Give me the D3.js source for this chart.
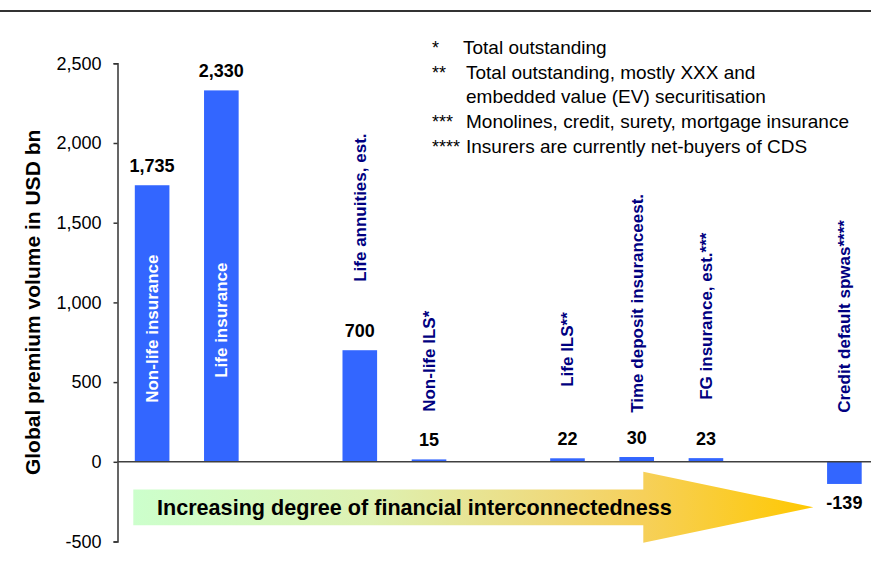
<!DOCTYPE html>
<html>
<head>
<meta charset="utf-8">
<script src="https://cdn.jsdelivr.net/npm/d3@7"></script>
<style>
  body { margin: 0; background: #fff; }
  svg { display: block; font-family: "Liberation Sans", Arial, sans-serif; }
</style>
</head>
<body>
<script>
// categories, gaps are empty slots on the x axis
var categories = ['Non-life insurance', 'Life insurance', '', 'Life annuities, est.', 'Non-life ILS*', '',
	'Life ILS**', 'Time deposit insuranceest.', 'FG insurance, est.***', '', 'Credit default spwas****'];
var values = [1735, 2330, null, 700, 15, null, 22, 30, 23, null, -139];
var yTicks = [-500, 0, 500, 1000, 1500, 2000, 2500];
var footnoteMarks = ['*', '**', '', '***', '****'];
var footnoteTexts = ['Total outstanding', 'Total outstanding, mostly XXX and', 'embedded value (EV) securitisation',
	'Monolines, credit, surety, mortgage insurance', 'Insurers are currently net-buyers of CDS'];

// layout: how far above the zero line each category label starts (px)
var labelLift = [59, 84, null, 180, 50, null, 75, 49, 62, null, 49];
// first two labels sit inside their bars
var insideBar = [true, true, false, false, false, false, false, false, false, false, false];

var width = 871, height = 564;

// plain hyphen for negatives, like the original
var fmt = function(v) { return d3.format(',')(v).replace('\u2212', '-'); };

var svg = d3.select('body').append('svg')
	.attr('width', width)
	.attr('height', height);

// top rule
svg.append('line')
	.attr('x1', 0).attr('x2', width)
	.attr('y1', 11).attr('y2', 11)
	.style('stroke', '#333').style('stroke-width', 2);

var x = d3.scaleBand()
	.domain(d3.range(categories.length))
	.range([117.5, 879])
	.paddingInner(0.5)
	.paddingOuter(0.25);

var y = d3.scaleLinear()
	.domain([-500, 2500])
	.range([541.5, 63.3]);

// arrow gradient
var defs = svg.append('defs');
var grad = defs.append('linearGradient')
	.attr('id', 'arrow-grad')
	.attr('gradientUnits', 'userSpaceOnUse')
	.attr('x1', 133).attr('x2', 813).attr('y1', 0).attr('y2', 0);
grad.selectAll('stop')
	.data([[0, '#ccffcc'], [0.35, '#def1b2'], [0.62, '#efda7c'], [0.75, '#f6d05a'], [1, '#ffc800']])
	.enter().append('stop')
	.attr('offset', function(d) { return d[0]; })
	.attr('stop-color', function(d) { return d[1]; });

// big arrow
var ax0 = 133.3, axHead = 643.3, axTip = 813.3, ayMid = 507.3, bodyHalf = 17.9, headHalf = 35.5;
svg.append('path')
	.attr('d', d3.line()([
		[ax0, ayMid - bodyHalf], [axHead, ayMid - bodyHalf], [axHead, ayMid - headHalf],
		[axTip, ayMid], [axHead, ayMid + headHalf], [axHead, ayMid + bodyHalf], [ax0, ayMid + bodyHalf]
	]) + 'Z')
	.style('fill', 'url(#arrow-grad)');

svg.append('text')
	.attr('x', 157)
	.attr('y', 514.5)
	.style('font-size', '21.6px')
	.style('font-weight', 'bold')
	.style('fill', '#000')
	.text('Increasing degree of financial interconnectedness');

// y axis
var yAxis = svg.append('g')
	.attr('transform', 'translate(' + x.range()[0] + ',0)')
	.call(d3.axisLeft(y).tickValues(yTicks).tickSize(4).tickPadding(12).tickFormat(fmt));
yAxis.select('.domain').style('stroke', '#333').style('stroke-width', 1.5);
yAxis.selectAll('.tick line').style('stroke', '#333').style('stroke-width', 1.5);
yAxis.selectAll('.tick text')
	.style('font-size', '18px')
	.style('font-family', '"Liberation Sans", Arial, sans-serif')
	.style('fill', '#000');

svg.append('text')
	.attr('transform', 'translate(39.5,' + ((y(2500) + y(-500)) / 2) + ') rotate(-90)')
	.style('text-anchor', 'middle')
	.style('font-size', '21px')
	.style('font-weight', 'bold')
	.text('Global premium volume in USD bn');

// bars
var data = categories.map(function(c, i) { return { i: i, name: c, value: values[i] }; });
var bars = data.filter(function(d) { return d.value !== null; });

svg.selectAll('.bar')
	.data(bars)
	.enter().append('rect')
	.classed('bar', true)
	.attr('x', function(d) { return x(d.i); })
	.attr('width', x.bandwidth())
	.attr('y', function(d) { return y(Math.max(0, d.value)); })
	.attr('height', function(d) { return Math.abs(y(d.value) - y(0)); })
	.style('fill', '#3366ff');

// zero line
svg.append('line')
	.attr('x1', x.range()[0]).attr('x2', width)
	.attr('y1', y(0)).attr('y2', y(0))
	.style('stroke', '#404040').style('stroke-width', 1.5);

// value labels
svg.selectAll('.val')
	.data(bars)
	.enter().append('text')
	.classed('val', true)
	.attr('x', function(d) { return x(d.i) + x.bandwidth() / 2; })
	.attr('y', function(d) { return d.value >= 0 ? y(d.value) - 13.5 : y(d.value) + 25.5; })
	.style('text-anchor', 'middle')
	.style('font-size', '18px')
	.style('font-weight', 'bold')
	.text(function(d) { return fmt(d.value); });

// category labels, rotated
svg.selectAll('.cat')
	.data(bars)
	.enter().append('text')
	.classed('cat', true)
	.attr('transform', function(d) {
		return 'translate(' + (x(d.i) + x.bandwidth() / 2) + ',' + (y(0) - labelLift[d.i]) + ') rotate(-90)';
	})
	.attr('dy', '0.35em')
	.style('font-size', '17px')
	.style('font-weight', 'bold')
	.style('fill', function(d) { return insideBar[d.i] ? '#fff' : '#000080'; })
	.text(function(d) { return d.name; });

// footnotes
var notes = svg.append('g').classed('notes', true);
notes.selectAll('.mark')
	.data(footnoteMarks)
	.enter().append('text')
	.attr('x', 432)
	.attr('y', function(d, i) { return 54 + i * 24.7; })
	.style('font-size', '18px')
	.text(function(d) { return d; });
notes.selectAll('.note')
	.data(footnoteTexts)
	.enter().append('text')
	.attr('x', function(d, i) { return i === 0 ? 463 : 466; })
	.attr('y', function(d, i) { return 54 + i * 24.7; })
	.style('font-size', '19px')
	.text(function(d) { return d; });
</script>
</body>
</html>
